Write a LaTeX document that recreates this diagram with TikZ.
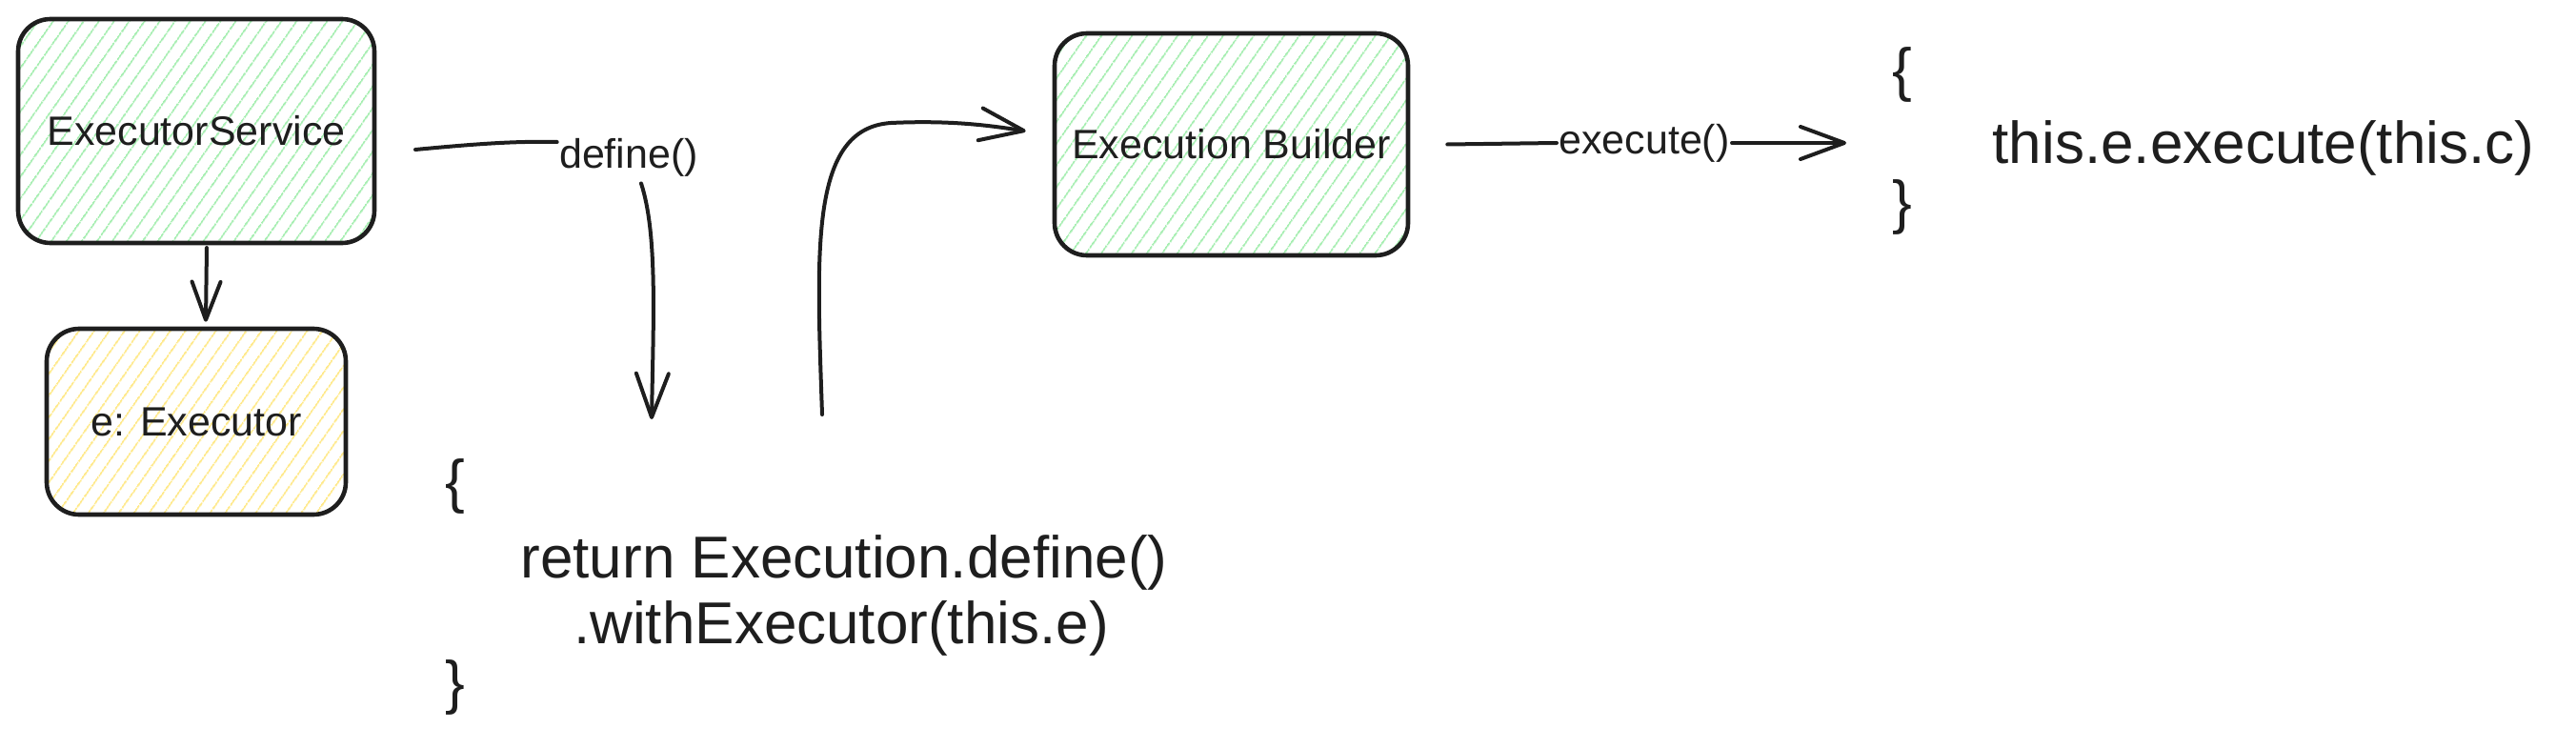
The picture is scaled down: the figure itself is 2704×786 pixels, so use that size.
\documentclass[tikz,border=0pt]{standalone}
\usepackage{fontspec}
\setmainfont{Liberation Sans}
\usetikzlibrary{arrows.meta,patterns.meta,calc}
\definecolor{hgreen}{HTML}{A6EEB1}
\definecolor{hyellow}{HTML}{FFE98A}
\definecolor{ink}{HTML}{1E1E1E}
\tikzset{
  box/.style={draw=ink, line width=2.3pt, rounded corners=17pt, inner sep=0pt,
    font=\fontsize{21.5}{26}\selectfont, text=ink},
  hatchgreen/.style={pattern={Lines[angle=55,distance=6.5pt,line width=1pt]}, pattern color=hgreen},
  hatchyellow/.style={pattern={Lines[angle=55,distance=6.5pt,line width=1pt]}, pattern color=hyellow},
  lbl/.style={font=\fontsize{21.5}{26}\selectfont, text=ink, inner sep=1pt},
  code/.style={font=\fontsize{31}{37}\selectfont, text=ink, inner sep=0pt},
  conn/.style={draw=ink, line width=2pt, line cap=round, line join=round},
  arr/.style={conn, -{Straight Barb[length=23pt,width=17pt,round]}},
  arrsmall/.style={conn, -{Straight Barb[length=20pt,width=15pt,round]}},
}
\begin{document}
\begin{tikzpicture}[x=0.5pt,y=-0.5pt]
\useasboundingbox (0,0) rectangle (2704,786);

% boxes
\node[box,hatchgreen,minimum width=187pt,minimum height=117.5pt] (es) at (206,137.5) {ExecutorService};
\node[box,hatchyellow,minimum width=157pt,minimum height=97.5pt] (ee) at (206,442.5) {e: Executor};
\node[box,hatchgreen,minimum width=185.5pt,minimum height=116.5pt] (eb) at (1292.5,151.5) {Execution Builder};

% ExecutorService -> e: Executor
\draw[arrsmall] ([xshift=5.5pt,yshift=-2pt]es.south) -- ([xshift=5pt,yshift=2.5pt]ee.north);

% define() connector
\coordinate (d0) at (436,157);
\node[lbl] (def) at (660,165) {define()};
\draw[conn] (d0) .. controls (500,151) and (540,148) .. ([yshift=8pt]def.west);
\coordinate (d2) at (684,440);
\draw[arr] ([xshift=6.5pt,yshift=-2.5pt]def.south) .. controls (690,245) and (686,330) .. (d2);

% code block 1
\node[code] (lb1) at (478,510) {\{};
\node[code] (ret1) at (886,590) {return Execution.define()};
\node[code] (ret2) at (883,659) {.withExecutor(this.e)};
\node[code] (rb1) at (478,721) {\}};

% up arrow into Execution Builder
\coordinate (u0) at (863,435);
\draw[arr] (u0) .. controls (857,260) and (850,135) .. (935,129)
  .. controls (1000,126) and (1040,132) .. ([xshift=-14pt,yshift=7pt]eb.west);

% execute() connector
\node[lbl] (exl) at (1726,150) {execute()};
\coordinate (x1) at (1938,150);
\draw[conn] ([xshift=19.5pt]eb.east) -- (exl.west);
\draw[arr] (exl.east) -- (x1);

% code block 2
\node[code] (lb2) at (1997,78) {\{};
\node[code] (exe) at (2376,155) {this.e.execute(this.c)};
\node[code] (rb2) at (1997,217) {\}};
\end{tikzpicture}
\end{document}
